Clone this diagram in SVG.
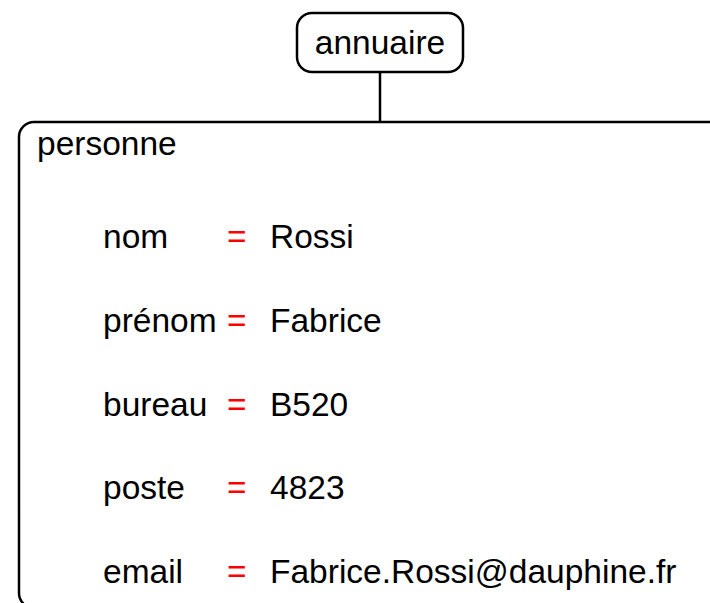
<svg xmlns="http://www.w3.org/2000/svg" width="710" height="603" viewBox="0 0 710 603">
<style>
text{font-family:"Liberation Sans",Arial,sans-serif;font-size:33.5px;fill:#000}
.eq{fill:#ff0000}
.box{fill:#fff;stroke:#000;stroke-width:2.5}
</style>
<rect width="710" height="603" fill="#fff"/>
<g id="connectors">
<line x1="380" y1="72" x2="380" y2="122" stroke="#000" stroke-width="2.5"/>
</g>
<g id="annuaire">
<rect class="box" x="297" y="13" width="166" height="59" rx="15"/>
<text x="380" y="54" text-anchor="middle">annuaire</text>
</g>
<g id="personne">
<rect class="box" x="19" y="122" width="720" height="486" rx="15"/>
<text x="37" y="155">personne</text>
<text x="103" y="248">nom</text><text class="eq" x="227" y="248">=</text><text x="270" y="248">Rossi</text>
<text x="103" y="332">prénom</text><text class="eq" x="227" y="332">=</text><text x="270" y="332">Fabrice</text>
<text x="103" y="416">bureau</text><text class="eq" x="227" y="416">=</text><text x="270" y="416">B520</text>
<text x="103" y="499">poste</text><text class="eq" x="227" y="499">=</text><text x="270" y="499">4823</text>
<text x="103" y="583">email</text><text class="eq" x="227" y="583">=</text><text x="270" y="583">Fabrice.Rossi@dauphine.fr</text>
</g>
</svg>
